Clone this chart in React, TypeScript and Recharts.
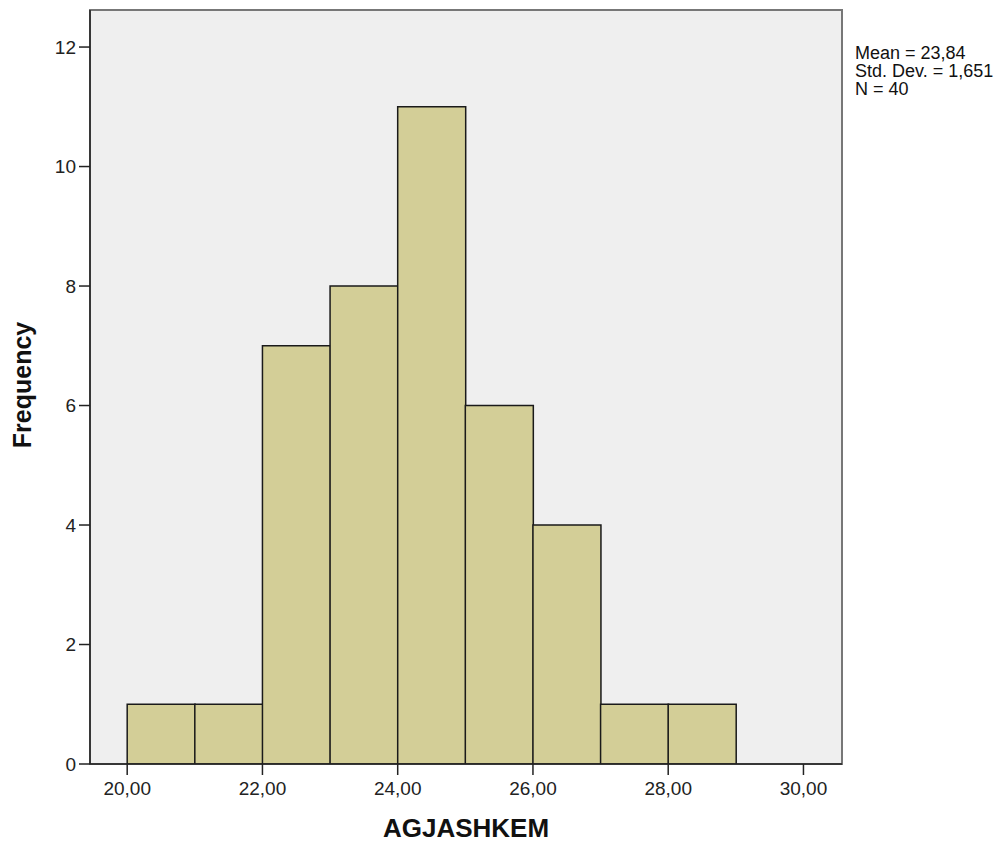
import React from 'react'
import {
  BarChart,
  Bar,
  XAxis,
  YAxis,
  CartesianGrid,
  ReferenceArea,
  Customized,
} from 'recharts'

// bin midpoints (width 1) and counts
const binMids = [20.5, 21.5, 22.5, 23.5, 24.5, 25.5, 26.5, 27.5, 28.5]
const counts = [1, 1, 7, 8, 11, 6, 4, 1, 1]

const xTicks = [20, 22, 24, 26, 28, 30]
const yTicks = [0, 2, 4, 6, 8, 10, 12]
const xDomain = [19.45, 30.57]
const yDomain = [0, 12.62]

const statLines = ['Mean = 23,84', 'Std. Dev. = 1,651', 'N = 40']

const data = binMids.map((mid, i) => ({ mid, count: counts[i] }))

const FONT = "Arial, 'Liberation Sans', sans-serif"

const fmt = (v: number) => v.toFixed(2).replace('.', ',')

function Stats() {
  return (
    <g>
      {statLines.map((s, i) => (
        <text key={s} x={855} y={59 + i * 18} fontSize={18} fontFamily={FONT} fill="#111">
          {s}
        </text>
      ))}
    </g>
  )
}

export default function App() {
  return (
    <div style={{ position: 'absolute', left: 0, top: 0, width: 1008, height: 843, background: '#fff' }}>
      <BarChart
        width={1008}
        height={843}
        data={data}
        margin={{ top: 10, right: 166, bottom: 0, left: 0 }}
        barCategoryGap={0}
        barGap={0}
      >
        <CartesianGrid horizontal={false} vertical={false} fill="#efefef" />
        <XAxis
          type="number"
          dataKey="mid"
          domain={xDomain}
          allowDataOverflow
          ticks={xTicks}
          tickFormatter={fmt}
          height={79}
          tickSize={11}
          tickMargin={7}
          axisLine={{ stroke: '#222', strokeWidth: 1.5 }}
          tickLine={{ stroke: '#222', strokeWidth: 1.5 }}
          tick={{ fill: '#222', fontSize: 19, fontFamily: FONT }}
          label={({ viewBox }: any) => (
            <text
              x={viewBox.x + viewBox.width / 2}
              y={viewBox.y + 73}
              textAnchor="middle"
              fontSize={26}
              fontWeight="bold"
              fontFamily={FONT}
              fill="#111"
            >
              AGJASHKEM
            </text>
          )}
        />
        <YAxis
          type="number"
          domain={yDomain}
          allowDataOverflow
          ticks={yTicks}
          width={90}
          tickSize={11}
          tickMargin={3}
          axisLine={{ stroke: '#222', strokeWidth: 1.5 }}
          tickLine={{ stroke: '#222', strokeWidth: 1.5 }}
          tick={{ fill: '#222', fontSize: 19, fontFamily: FONT }}
          label={() => (
            <text
              x={31}
              y={385}
              transform="rotate(-90 31 385)"
              textAnchor="middle"
              fontSize={25}
              fontWeight="bold"
              fontFamily={FONT}
              fill="#111"
            >
              Frequency
            </text>
          )}
        />
        <ReferenceArea
          x1={xDomain[0]}
          x2={xDomain[1]}
          y1={yDomain[0]}
          y2={yDomain[1]}
          fill="none"
          stroke="#777"
          strokeWidth={2}
          ifOverflow="visible"
        />
        <Bar
          dataKey="count"
          fill="#d3ce97"
          stroke="#1a1a1a"
          strokeWidth={1.5}
          isAnimationActive={false}
        />
        <Customized component={Stats} />
      </BarChart>
    </div>
  )
}
